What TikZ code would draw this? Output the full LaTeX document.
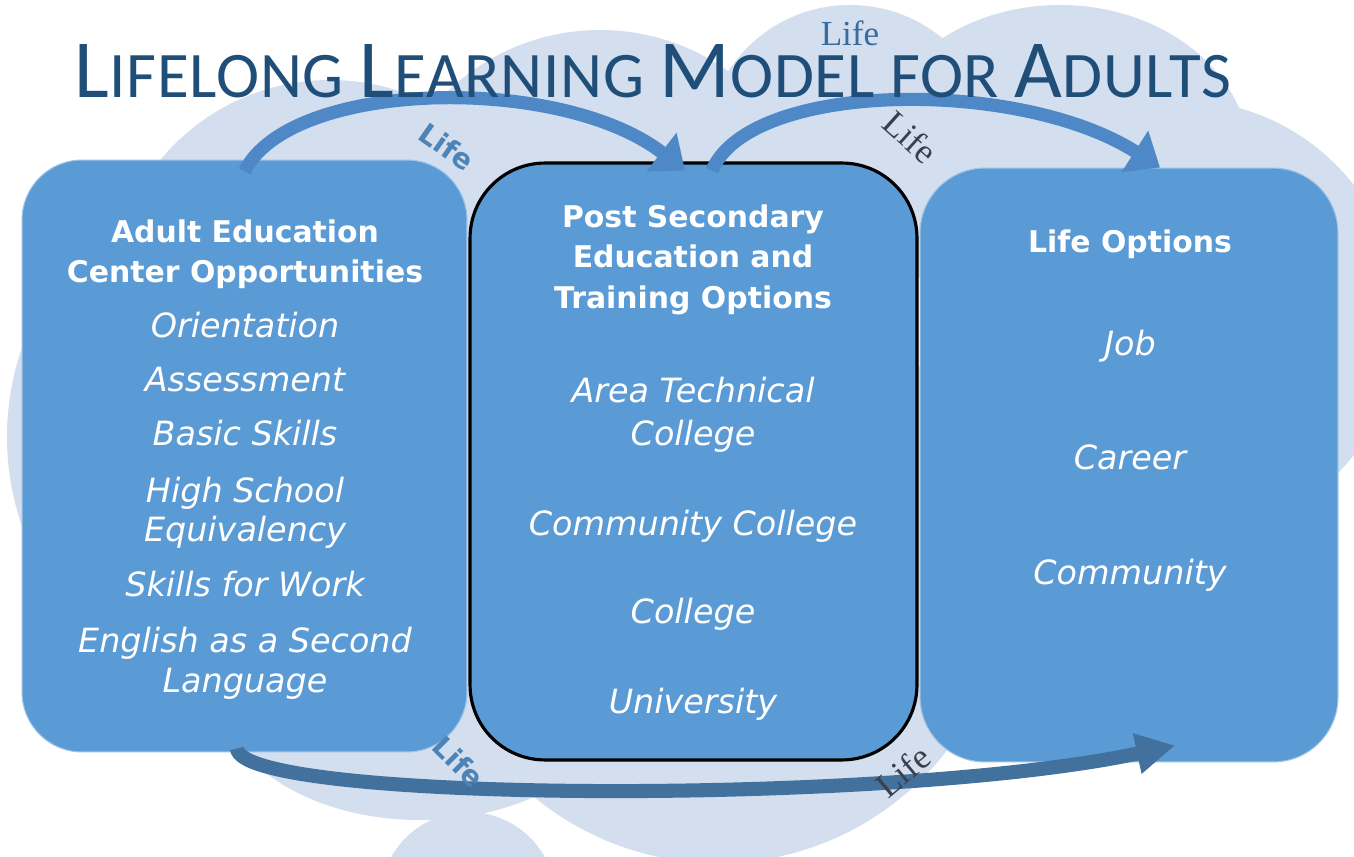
\documentclass[tikz,border=0pt]{standalone}
\usepackage{fontspec}
\usetikzlibrary{arrows.meta,positioning}
\setmainfont{DejaVu Sans}
\newfontfamily\titlefont{Carlito}[LetterSpace=1.2]
\newfontfamily\lifeserif{Liberation Serif}

\definecolor{cloudblue}{HTML}{D3DEEF}
\definecolor{boxblue}{HTML}{5B9BD5}
\definecolor{titleblue}{HTML}{1F4E79}
\definecolor{arrowblue}{HTML}{4F88C6}
\definecolor{arrowdark}{HTML}{41719C}
\definecolor{lifegrey}{HTML}{3B3F4A}

% big first letter, small caps for the rest
\newcommand{\capword}[2]{{\fontsize{47}{47}\selectfont #1}{\fontsize{37}{37}\selectfont #2}}

\tikzset{
  optionbox/.style={fill=boxblue, draw=boxblue!60!white, line width=0.6pt},
  headtext/.style={text=white, font=\bfseries\fontsize{17}{20}\selectfont, anchor=base},
  itemtext/.style={text=white, font=\itshape\fontsize{19}{22}\selectfont, anchor=base},
  lifearrow/.style={draw=arrowblue, line width=7.5pt, -{Triangle[width=27pt,length=17pt]}},
  lifesans/.style={text=boxblue!85!black, font=\bfseries\fontsize{16}{16}\selectfont},
  lifeword/.style={text=lifegrey, font=\lifeserif\fontsize{20}{20}\selectfont},
}

\begin{document}
\begin{tikzpicture}[x=0.02cm, y=-0.02cm]
  \useasboundingbox (0,0) rectangle (1354,857);

  % The cloud behind everything
  \fill[cloudblue] (278,437) circle (271) (330,300) circle (220)
    (600,250) circle (220) (850,150) circle (145)
    (1060,160) ellipse [x radius=190, y radius=155] (1180,320) circle (220)
    (420,690) ellipse [x radius=200, y radius=130] (468,900) circle (88)
    (718,574) circle (289);

  % The three boxes
  \node[optionbox, rounded corners=1.2cm, minimum width=8.9cm, minimum height=11.84cm] (adult) at (244.5,456) {};
  \node[optionbox, draw=black, line width=1.8pt, rounded corners=1.5cm, minimum width=8.94cm, minimum height=11.94cm] (post) at (693.5,461.5) {};
  \node[optionbox, rounded corners=1.3cm, minimum width=8.36cm, minimum height=11.88cm] (life) at (1129,465) {};

  % Adult education
  \node[headtext] (adult-head1) at (245,243) {Adult Education};
  \node[headtext] (adult-head2) at (245,283) {Center Opportunities};
  \foreach \txt/\yy [count=\i] in {Orientation/338, Assessment/392, Basic Skills/446,
      High School/502, Equivalency/541, Skills for Work/596, English as a Second/652, Language/692}
    \node[itemtext] (adult-item\i) at (245,\yy) {\txt};

  % Post secondary
  \node[headtext] (post-head1) at (693,228) {Post Secondary};
  \node[headtext] (post-head2) at (693,268) {Education and};
  \node[headtext] (post-head3) at (693,309) {Training Options};
  \foreach \txt/\yy [count=\i] in {Area Technical/403, College/446, Community College/535,
      College/623, University/713}
    \node[itemtext] (post-item\i) at (693,\yy) {\txt};

  % Life options
  \node[headtext] (life-head) at (1130,253) {Life Options};
  \foreach \txt/\yy [count=\i] in {Job/356, Career/470, Community/584}
    \node[itemtext] (life-item\i) at (1130,\yy) {\txt};

  % Curved arrows between the boxes
  \draw[lifearrow] ([yshift=-0.24cm]adult.north) .. controls +(45,-92) and +(-125,-97) .. ([xshift=-0.17cm,yshift=-0.18cm]post.north);
  \draw[lifearrow] ([xshift=0.37cm,yshift=-0.18cm]post.north) .. controls +(38,-90) and +(-140,-90) .. ([xshift=0.62cm]life.north);
  \draw[lifearrow, draw=arrowdark, line width=8pt, -{Triangle[width=22pt,length=22pt]}]
    ([xshift=-0.15cm,yshift=0.08cm]adult.south) .. controls +(3,55) and +(-280,60) .. ([xshift=0.92cm,yshift=0.34cm]life.south);

  % Title
  \node[text=titleblue, font=\titlefont, anchor=base] (title) at (653,98)
    {\capword{L}{IFELONG }\capword{L}{EARNING }\capword{M}{ODEL FOR }\capword{A}{DULTS}};

  % Life words
  \node[lifesans, rotate=-35] (life-a) at (447,147) {Life};
  \node[lifeword, rotate=-42] (life-b) at (910,137) {Life};
  \node[lifeword, text=titleblue!60!boxblue] (life-c) at (850,33) {Life};
  \node[lifesans, rotate=-45] (life-d) at (459,762) {Life};
  \node[lifeword, rotate=40] (life-e) at (903,771) {Life};
\end{tikzpicture}
\end{document}
